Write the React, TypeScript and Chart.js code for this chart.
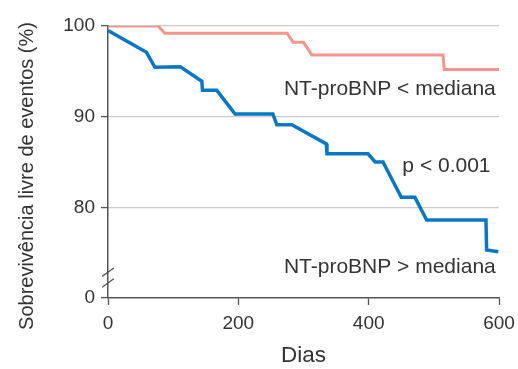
import React, { useEffect, useRef } from "react";
import { Chart, registerables } from "chart.js";
Chart.register(...registerables);

// Kaplan-Meier curves (days, % event-free survival)
const lowDays = [0, 77, 87, 275, 284, 300, 313, 514, 516, 600];
const lowSurv = [100, 100, 99.2, 99.2, 98.2, 98.2, 96.8, 96.8, 95.2, 95.2];
const highDays = [0, 59, 72, 111, 144, 145, 167, 195, 253, 259, 282, 335, 336, 399, 410, 422, 450, 471, 489, 580, 581, 599];
const highSurv = [99.5, 97.1, 95.45, 95.5, 93.9, 92.9, 92.9, 90.3, 90.3, 89.1, 89.1, 87, 85.9, 85.9, 85, 85, 81.1, 81.1, 78.6, 78.6, 75.3, 75.1];

// broken y axis: the bottom value 70 is displayed as "0"
const yTickValues = [70, 80, 90, 100];
const yTickLabels = ["0", "80", "90", "100"];
const xTickValues = [0, 200, 400, 600];

const annoTexts = ["NT-proBNP < mediana", "p < 0.001", "NT-proBNP > mediana"];
const annoX = [595, 587, 595];
const annoY = [92.4, 83.86, 72.73];

const yTitle = "Sobrevivência livre de eventos (%)";
const xTitle = "Dias";

const FONT = "'Liberation Sans', Arial, sans-serif";
const TEXT = "#333333";
const AXIS = "#555555";

export default function App() {
  const ref = useRef<HTMLCanvasElement | null>(null);
  useEffect(() => {
    if (!ref.current) return;
    const extras = {
      id: "extras",
      afterDraw(chart: any) {
        const ctx = chart.ctx;
        const xs = chart.scales.x;
        const ys = chart.scales.y;
        const area = chart.chartArea;
        ctx.save();
        // axis break marks
        ctx.strokeStyle = AXIS;
        ctx.lineWidth = 1.3;
        [72.85, 71.65].forEach((v) => {
          const cy = ys.getPixelForValue(v);
          const cx = area.left;
          ctx.beginPath();
          ctx.moveTo(cx - 5.8, cy + 4.2);
          ctx.lineTo(cx + 5.8, cy - 4.2);
          ctx.stroke();
        });
        // annotations
        ctx.fillStyle = TEXT;
        ctx.font = `21px ${FONT}`;
        ctx.textAlign = "right";
        ctx.textBaseline = "alphabetic";
        annoTexts.forEach((t, i) => {
          ctx.fillText(t, xs.getPixelForValue(annoX[i]), ys.getPixelForValue(annoY[i]));
        });
        // y title
        ctx.translate(33, (area.top + area.bottom) / 2 + 14);
        ctx.rotate(-Math.PI / 2);
        ctx.textAlign = "center";
        ctx.font = `20px ${FONT}`;
        ctx.fillText(yTitle, 0, 0);
        ctx.restore();
      },
    };
    const chart = new Chart(ref.current, {
      type: "line",
      data: {
        datasets: [
          {
            label: "NT-proBNP < mediana",
            data: lowDays.map((d, i) => ({ x: d, y: lowSurv[i] })),
            borderColor: "#F4968B",
            borderWidth: 3,
            pointRadius: 0,
            tension: 0,
          },
          {
            label: "NT-proBNP > mediana",
            data: highDays.map((d, i) => ({ x: d, y: highSurv[i] })),
            borderColor: "#0A77C2",
            borderWidth: 3.5,
            pointRadius: 0,
            tension: 0,
          },
        ],
      },
      options: {
        animation: false,
        responsive: false,
        maintainAspectRatio: false,
        layout: { padding: { left: 0, right: 19, top: 26, bottom: 0 } },
        plugins: { legend: { display: false }, tooltip: { enabled: false } },
        scales: {
          x: {
            type: "linear",
            min: 0,
            max: 600,
            afterFit: (s: any) => { s.height = 71; s.paddingLeft = 0; s.paddingRight = 0; },
            afterBuildTicks: (s: any) => { s.ticks = xTickValues.map((v) => ({ value: v })); },
            ticks: { color: TEXT, font: { family: FONT, size: 19 }, padding: 7 },
            grid: { display: true, drawOnChartArea: false, drawTicks: true, tickLength: 7, tickColor: AXIS, tickWidth: 1.3 },
            border: { color: AXIS, width: 1.5 },
            title: { display: true, text: xTitle, color: TEXT, font: { family: FONT, size: 22.5 }, padding: { top: 0, bottom: 0 } },
          },
          y: {
            type: "linear",
            min: 70,
            max: 100,
            afterFit: (s: any) => { s.width = 108; s.paddingTop = 0; s.paddingBottom = 0; },
            afterBuildTicks: (s: any) => { s.ticks = yTickValues.map((v) => ({ value: v })); },
            ticks: {
              color: TEXT,
              font: { family: FONT, size: 19 },
              padding: 6,
              callback: (v: any) => yTickLabels[yTickValues.indexOf(Number(v))] ?? "",
            },
            grid: {
              color: (c: any) => (c.tick && c.tick.value === 70 ? "rgba(0,0,0,0)" : "#CCCCCC"),
              lineWidth: 1.2,
              tickLength: 7,
              tickColor: AXIS,
              tickWidth: 1.3,
            },
            border: { color: AXIS, width: 1.5 },
          },
        },
      },
      plugins: [extras],
    });
    return () => chart.destroy();
  }, []);
  return (
    <div style={{ position: "fixed", left: 0, top: 0, width: 518, height: 369, background: "#fff" }}>
      <canvas ref={ref} width={518} height={369} style={{ width: 518, height: 369 }} />
    </div>
  );
}
